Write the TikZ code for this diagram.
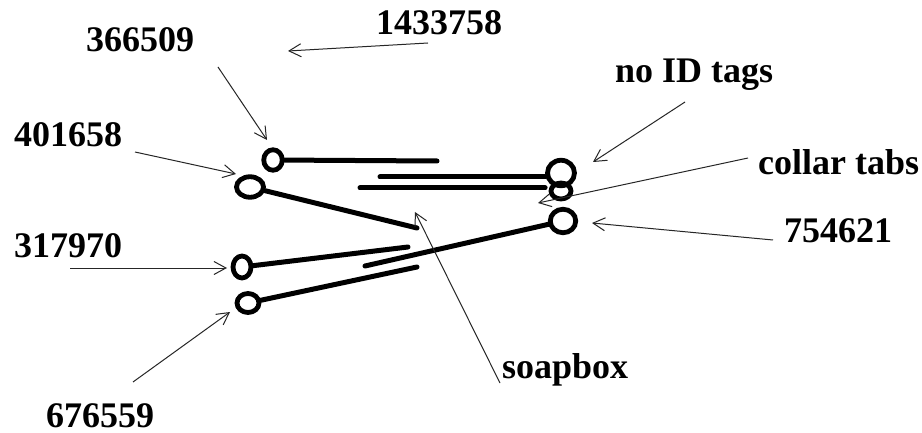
\documentclass[tikz,border=0pt]{standalone}
\usepackage{fontspec}
\setmainfont{Liberation Serif}
\usetikzlibrary{arrows.meta,shapes.geometric}
\tikzset{
  lab/.style={font=\fontsize{36}{38}\selectfont\bfseries, inner sep=0pt, anchor=base west},
  ring/.style={ellipse, draw, line width=4.8pt, inner sep=0pt},
  bar/.style={line width=5pt, line cap=round},
  arr/.style={draw=black!85, line width=1pt, -{Straight Barb[length=12pt,width=13pt,line width=1pt]}}
}
\begin{document}
\begin{tikzpicture}[x=1pt,y=-1pt]
\useasboundingbox[fill=white] (0,0) rectangle (922,433);
% labels
\node[lab] (l1433758) at (376,35) {1433758};
\node[lab] (l366509) at (86,52) {366509};
\node[lab] (l401658) at (14,147) {401658};
\node[lab] (l317970) at (14,258) {317970};
\node[lab] (l676559) at (46,427) {676559};
\node[lab] (l754621) at (784,243) {754621};
\node[lab] (lnoid) at (615,83) {no ID tags};
\node[lab] (lcollar) at (758,175) {collar tabs};
\node[lab] (lsoap) at (502,378) {soapbox};
% rings
\node[ring, minimum width=18.5pt, minimum height=20.5pt] (A) at (273,160) {};
\node[ring, minimum width=27pt, minimum height=20.5pt] (B) at (250,187) {};
\node[ring, minimum width=18pt, minimum height=22pt] (C) at (242,267) {};
\node[ring, minimum width=22pt, minimum height=19pt] (D) at (248,303) {};
\node[ring, minimum width=20pt, minimum height=16pt] (R2) at (561,191) {};
\node[ring, minimum width=27pt, minimum height=25.5pt] (R1) at (561,173) {};
\node[ring, minimum width=25.5pt, minimum height=23.5pt] (E) at (563,221) {};
% bar ends
\coordinate (e1) at (437,161);
\coordinate (s2) at (380,177);
\coordinate (s3) at (360,188);
\coordinate (e4) at (417,228);
\coordinate (e5) at (408,247);
\coordinate (e6) at (417,267);
\coordinate (e7) at (365,266);
\draw[bar] (A) -- (e1);
\draw[bar] (s2) -- (s2 -| R1.west);
\draw[bar] (s3) -- (s3 -| R1.west);
\draw[bar] (B) -- (e4);
\draw[bar] (C) -- (e5);
\draw[bar] (D) -- (e6);
\draw[bar] (E) -- (e7);
% arrow tails and heads
\coordinate (t1433758) at (428,43);  \coordinate (h1433758) at (288,51);
\coordinate (t366509) at (218,67);   \coordinate (h366509) at (267,140);
\coordinate (t401658) at (135,152);  \coordinate (h401658) at (236,174);
\coordinate (tnoid) at (685,102);    \coordinate (hnoid) at (593,162);
\coordinate (tcollar) at (748,158);  \coordinate (hcollar) at (538,203);
\coordinate (t754621) at (773,240);  \coordinate (h754621) at (592,223);
\coordinate (t317970) at (70,268);   \coordinate (h317970) at (227,268);
\coordinate (t676559) at (133,382);  \coordinate (h676559) at (230,312);
\coordinate (tsoap) at (500,383);    \coordinate (hsoap) at (415,212);
\draw[arr] (t1433758) -- (h1433758);
\draw[arr] (t366509) -- (h366509);
\draw[arr] (t401658) -- (h401658);
\draw[arr] (tnoid) -- (hnoid);
\draw[arr] (tcollar) -- (hcollar);
\draw[arr] (t754621) -- (h754621);
\draw[arr] (t317970) -- (h317970);
\draw[arr] (t676559) -- (h676559);
\draw[arr] (tsoap) -- (hsoap);
\end{tikzpicture}
\end{document}
